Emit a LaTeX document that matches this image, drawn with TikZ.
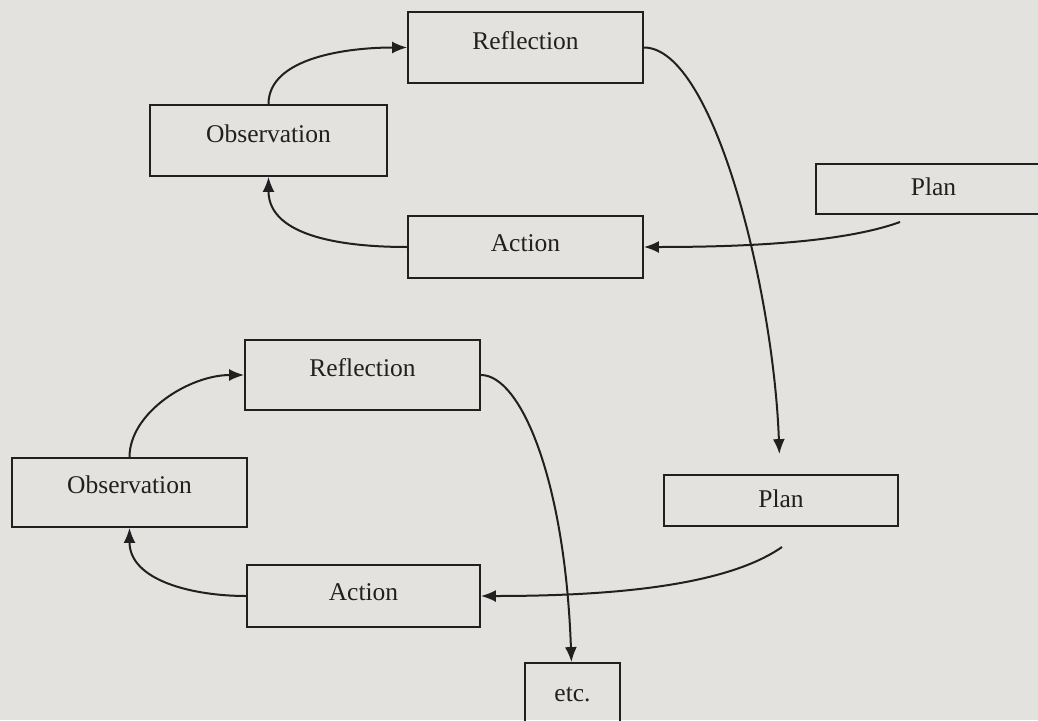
\documentclass[tikz,border=0pt]{standalone}
\usepackage{fontspec}
\setmainfont{Liberation Serif}
\usetikzlibrary{arrows.meta}
\definecolor{paper}{RGB}{228,226,222}
\definecolor{ink}{RGB}{32,32,32}
\begin{document}
\begin{tikzpicture}[x=1pt, y=-1pt, line width=2pt, draw=ink, text=ink,
        every edge/.style={draw=ink, line width=2pt, -{Latex[length=15pt,width=12pt]}},
        lift/.style={text height=17pt, text depth=#1}
    ]
            \useasboundingbox (0,0) rectangle (1038,720);
            \fill[paper] (0,0) rectangle (1038,720);
            \clip (0,0) rectangle (1038,720);

            \begin{scope}[
                    every node/.style={rectangle, draw=ink, line width=1.8pt, minimum width=235pt,
                        inner sep=0pt, font=\fontsize{25.5}{30}\selectfont}
                ]
                % first cycle
                \node[lift=14pt, minimum height=71pt] (r1) at (525.5,47.5) {Reflection};
                \node[lift=14pt, minimum height=71pt, minimum width=237pt] (o1) at (268.5,140.5) {Observation};
                \node[lift=8pt, minimum height=62pt] (a1) at (525.5,247) {Action};
                \node[lift=4pt, minimum height=50pt] (p1) at (933.5,189) {Plan};
                % second cycle
                \node[lift=15pt, minimum height=70pt] (r2) at (362.5,375) {Reflection};
                \node[lift=15pt, minimum height=69pt] (o2) at (129.5,492.5) {Observation};
                \node[lift=8pt, minimum height=62pt, minimum width=233pt] (a2) at (363.5,596) {Action};
                \node[lift=4pt, minimum height=51pt, minimum width=234pt] (p2) at (781,500.5) {Plan};
                \node[lift=0pt, minimum height=60pt, minimum width=95pt] (etc) at (572.5,693) {etc.};
            \end{scope}

            \coordinate (p1s) at (900,222);
            \coordinate (p2s) at (782,547);

            \draw (o1) edge[out=90, in=180, out looseness=0.8] (r1);
            \draw (a1) edge[out=180, in=270] (o1);
            \draw (r1) edge[out=0, in=92, out looseness=0.4, in looseness=1.04, shorten >=20pt] (p2);
            \draw (p1s) edge[out=200, in=0, out looseness=0.6] (a1);

            \draw (o2) edge[out=90, in=180, out looseness=0.8] (r2);
            \draw (a2) edge[out=180, in=270] (o2);
            \draw (r2) edge[out=0, in=92, out looseness=0.34, in looseness=1.55] (etc);
            \draw (p2s) edge[out=215, in=0, out looseness=0.6] (a2);

        \end{tikzpicture}
\end{document}
